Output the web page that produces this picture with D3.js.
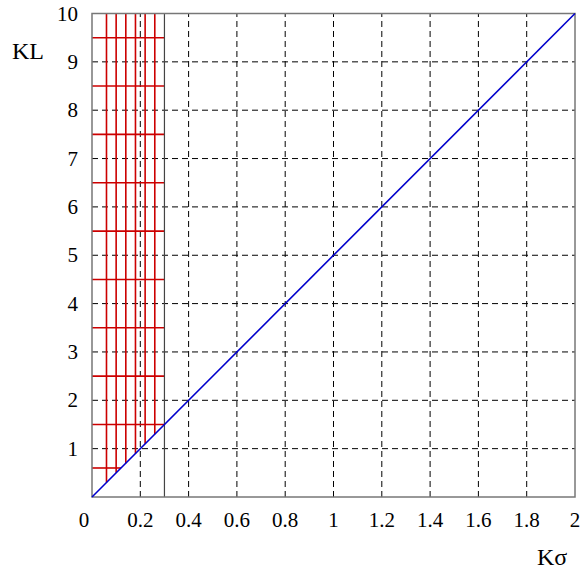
<!DOCTYPE html>
<html><head><meta charset="utf-8">
<script src="https://cdn.jsdelivr.net/npm/d3@7"></script>
<style>body{margin:0;background:#fff}svg{display:block}</style>
</head><body>
<svg id="c" width="580" height="575"></svg>
<script>
const xTicks = [0,0.2,0.4,0.6,0.8,1,1.2,1.4,1.6,1.8,2];
const xTickLabels = ["0","0.2","0.4","0.6","0.8","1","1.2","1.4","1.6","1.8","2"];
const yTicks = [1,2,3,4,5,6,7,8,9,10];
const yTickLabels = ["1","2","3","4","5","6","7","8","9","10"];
const redVerticals = [0.06,0.1,0.14,0.18,0.22,0.26];
const redHorizontals = [0.6,1.5,2.5,3.5,4.5,5.5,6.5,7.5,8.5,9.5];
const lineX = [0,2];
const lineY = [0,10];
const cutoff = 0.3;
const slope = 5;

const svg = d3.select("#c");
const x = d3.scaleLinear().domain([0,2]).range([92,575]);
const y = d3.scaleLinear().domain([0,10]).range([497,13.5]);
const font = "'Liberation Serif','Times New Roman',serif";

// grid dashed
svg.append("g").selectAll("line").data(xTicks.filter(d=>d>0&&d<2)).join("line")
  .attr("x1",d=>x(d)).attr("x2",d=>x(d)).attr("y1",y(0)).attr("y2",y(10))
  .attr("stroke","#000").attr("stroke-width",1).attr("stroke-dasharray","6,4");
svg.append("g").selectAll("line").data(yTicks.filter(d=>d<10)).join("line")
  .attr("y1",d=>y(d)).attr("y2",d=>y(d)).attr("x1",x(0)).attr("x2",x(2))
  .attr("stroke","#000").attr("stroke-width",1).attr("stroke-dasharray","6,4");

// red grid
svg.append("g").selectAll("line").data(redVerticals).join("line")
  .attr("x1",d=>x(d)).attr("x2",d=>x(d)).attr("y1",d=>y(d*slope)).attr("y2",y(10))
  .attr("stroke","#cc0000").attr("stroke-width",1.6);
svg.append("g").selectAll("line").data(redHorizontals).join("line")
  .attr("y1",d=>y(d)).attr("y2",d=>y(d)).attr("x1",x(0)).attr("x2",d=>x(Math.min(cutoff,d/slope)))
  .attr("stroke","#cc0000").attr("stroke-width",1.6);

// cutoff line
svg.append("line").attr("x1",x(cutoff)).attr("x2",x(cutoff)).attr("y1",y(0)).attr("y2",y(10))
  .attr("stroke","#444").attr("stroke-width",1.2);

// frame
svg.append("rect").attr("x",x(0)).attr("y",y(10)).attr("width",x(2)-x(0)).attr("height",y(0)-y(10))
  .attr("fill","none").attr("stroke","#777").attr("stroke-width",1.5);

// diagonal
svg.append("path").datum(lineX.map((d,i)=>[d,lineY[i]]))
  .attr("d",d3.line().x(d=>x(d[0])).y(d=>y(d[1])))
  .attr("stroke","#0000cc").attr("stroke-width",1.6).attr("fill","none");

// tick labels
svg.append("g").selectAll("text").data(xTicks).join("text")
  .attr("x",(d,i)=>i===0?x(d)-8:x(d)).attr("y",527)
  .attr("text-anchor","middle").attr("font-family",font).attr("font-size",21)
  .text((d,i)=>xTickLabels[i]);
svg.append("g").selectAll("text").data(yTicks).join("text")
  .attr("x",78).attr("y",d=>y(d)+7)
  .attr("text-anchor","end").attr("font-family",font).attr("font-size",21)
  .text((d,i)=>yTickLabels[i]);

svg.append("text").attr("x",12).attr("y",59).attr("font-family",font).attr("font-size",24).text("KL");
svg.append("text").attr("x",537).attr("y",565).attr("font-family",font).attr("font-size",24).text("Kσ");
</script>
</body></html>
